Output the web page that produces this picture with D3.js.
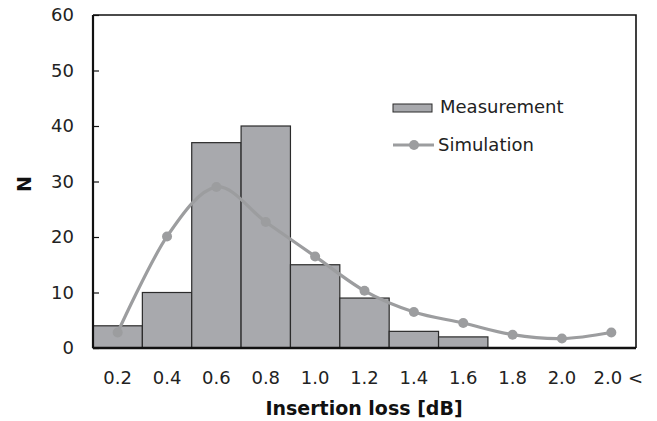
<!DOCTYPE html>
<html>
<head>
<meta charset="utf-8">
<script src="https://cdn.jsdelivr.net/npm/d3@7"></script>
<style>
  html, body { margin: 0; padding: 0; background: #fff; }
  svg { display: block; font-family: "DejaVu Sans", Verdana, sans-serif; }
</style>
</head>
<body>
<svg id="chart" width="657" height="421"></svg>
<script>
// Insertion-loss histogram: measured counts per bin with simulated distribution
const categories = ["0.2", "0.4", "0.6", "0.8", "1.0", "1.2", "1.4", "1.6", "1.8", "2.0", "2.0 <"];
const measurement = [4, 10, 37, 40, 15, 9, 3, 2, 0, 0, 0];
const simulation = [2.8, 20.1, 29.0, 22.7, 16.5, 10.3, 6.5, 4.5, 2.4, 1.7, 2.8];
const yTicks = [0, 10, 20, 30, 40, 50, 60];

const svg = d3.select("#chart");
const m = { left: 93, right: 21, top: 15, bottom: 73 };
const W = 657, H = 421;
const FS = 18;

const x = d3.scaleBand().domain(categories).range([m.left, W - m.right]).padding(0);
const y = d3.scaleLinear().domain([0, 60]).range([H - m.bottom, m.top]);

// Bars
svg.append("g").selectAll("rect")
  .data(categories.map((c, i) => ({ c, v: measurement[i] })).filter(d => d.v > 0))
  .join("rect")
  .attr("x", d => x(d.c))
  .attr("y", d => y(d.v))
  .attr("width", x.bandwidth())
  .attr("height", d => y(0) - y(d.v))
  .attr("fill", "#a8a9ad")
  .attr("stroke", "#2b2b2b")
  .attr("stroke-width", 1.2);

// Simulation curve
const pts = categories.map((c, i) => [x(c) + x.bandwidth() / 2, y(simulation[i])]);
svg.append("path")
  .attr("d", d3.line().curve(d3.curveCardinal.tension(0))(pts))
  .attr("fill", "none")
  .attr("stroke", "#9c9d9f")
  .attr("stroke-width", 3.2);
svg.append("g").selectAll("circle")
  .data(pts)
  .join("circle")
  .attr("cx", d => d[0])
  .attr("cy", d => d[1])
  .attr("r", 5)
  .attr("fill", "#9c9d9f");

// Frame: top and right edges
svg.append("path")
  .attr("d", `M${m.left},${m.top}H${W - m.right}V${H - m.bottom}`)
  .attr("fill", "none")
  .attr("stroke", "#111")
  .attr("stroke-width", 1.6);

// Y axis with inward ticks
const yAxis = svg.append("g")
  .attr("transform", `translate(${m.left},0)`)
  .call(d3.axisRight(y).tickValues(yTicks).tickSize(6).tickFormat(() => ""));
yAxis.select(".domain").attr("stroke", "#111").attr("stroke-width", 2.2)
  .attr("d", `M0,${m.top}V${H - m.bottom}`);
yAxis.selectAll(".tick line").attr("stroke", "#111").attr("stroke-width", 1.2);
svg.append("g").selectAll("text")
  .data(yTicks)
  .join("text")
  .attr("x", 74)
  .attr("y", d => y(d))
  .attr("dy", "0.36em")
  .attr("text-anchor", "end")
  .attr("font-size", FS)
  .attr("fill", "#222")
  .text(d => d);

// X axis baseline and labels
svg.append("line")
  .attr("x1", m.left).attr("x2", W - m.right)
  .attr("y1", y(0)).attr("y2", y(0))
  .attr("stroke", "#111").attr("stroke-width", 2.6);
svg.append("g").selectAll("text")
  .data(categories)
  .join("text")
  .attr("x", d => x(d) + x.bandwidth() / 2 + (d === "2.0 <" ? 7 : 0))
  .attr("y", 378)
  .attr("dy", "0.36em")
  .attr("text-anchor", "middle")
  .attr("font-size", FS)
  .attr("fill", "#222")
  .text(d => d);

// Axis titles
svg.append("text")
  .attr("x", 364).attr("y", 408).attr("dy", "0.36em")
  .attr("text-anchor", "middle")
  .attr("font-size", 19).attr("font-weight", "bold").attr("fill", "#111")
  .text("Insertion loss [dB]");
svg.append("text")
  .attr("transform", "translate(24,184) rotate(-90)")
  .attr("dy", "0.36em")
  .attr("text-anchor", "middle")
  .attr("font-size", 19).attr("font-weight", "bold").attr("fill", "#111")
  .text("N");

// Legend
const lg = svg.append("g");
lg.append("rect")
  .attr("x", 393).attr("y", 104).attr("width", 39).attr("height", 8)
  .attr("fill", "#a8a9ad").attr("stroke", "#2b2b2b").attr("stroke-width", 1);
lg.append("text")
  .attr("x", 440).attr("y", 107).attr("dy", "0.36em")
  .attr("font-size", FS).attr("fill", "#222").text("Measurement");
lg.append("line")
  .attr("x1", 393).attr("x2", 434).attr("y1", 145).attr("y2", 145)
  .attr("stroke", "#9c9d9f").attr("stroke-width", 3.2);
lg.append("circle")
  .attr("cx", 414).attr("cy", 145).attr("r", 5).attr("fill", "#9c9d9f");
lg.append("text")
  .attr("x", 438).attr("y", 145).attr("dy", "0.36em")
  .attr("font-size", FS).attr("fill", "#222").text("Simulation");
</script>
</body>
</html>
